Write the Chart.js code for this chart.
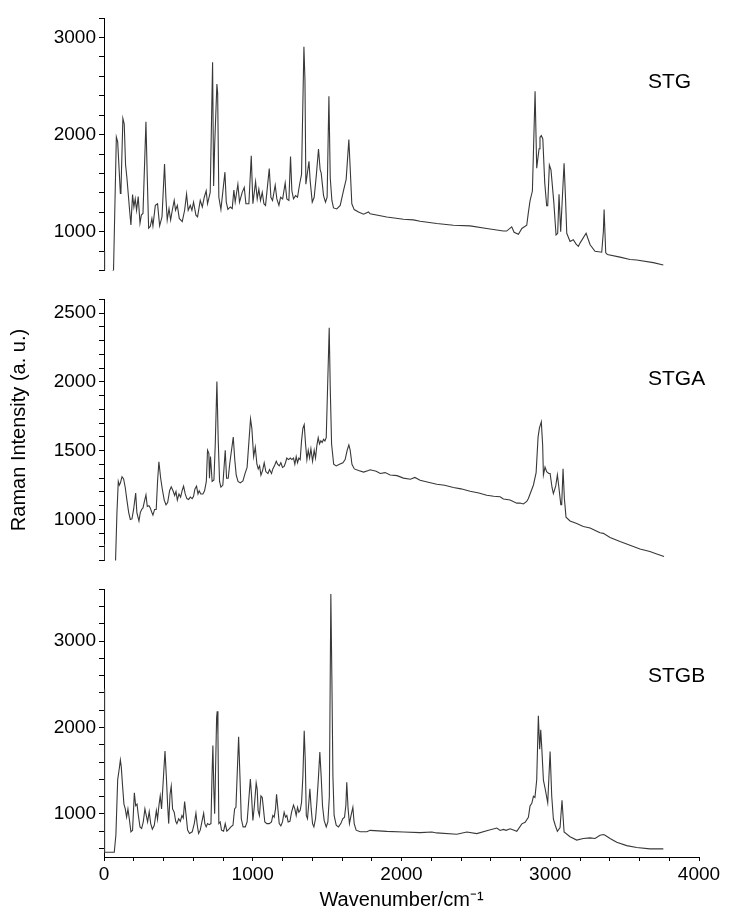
<!DOCTYPE html>
<html>
<head>
<meta charset="utf-8">
<script src="https://cdn.jsdelivr.net/npm/chart.js@4.4.1/dist/chart.umd.min.js"></script>
<style>
  html, body { margin: 0; padding: 0; background: #fff; }
  #wrap { position: relative; width: 739px; height: 918px; }
  .panel { position: absolute; left: 0; width: 739px; }
</style>
</head>
<body>
<div id="wrap">
  <div class="panel" style="top:0;height:285px"><canvas id="stgChart"></canvas></div>
  <div class="panel" style="top:285px;height:290px"><canvas id="stgaChart"></canvas></div>
  <div class="panel" style="top:575px;height:343px"><canvas id="stgbChart"></canvas></div>
</div>
<script>
// wavenumber (cm-1) / intensity pairs
const stgWn = [0, 4, 64, 83, 92, 110, 114, 127, 136, 145, 154, 172, 181, 192, 201, 210, 219, 230, 242, 251, 262, 282, 291, 300, 311, 322, 329, 345, 360, 374, 390, 407, 416, 425, 437, 448, 459, 472, 481, 493, 506, 526, 542, 555, 566, 580, 591, 602, 618, 629, 647, 661, 674, 687, 696, 714, 730, 737, 744, 759, 764, 772, 786, 813, 822, 833, 849, 862, 873, 882, 900, 911, 929, 943, 954, 974, 990, 1001, 1019, 1030, 1041, 1052, 1064, 1075, 1086, 1111, 1122, 1133, 1151, 1162, 1176, 1187, 1201, 1218, 1229, 1243, 1254, 1263, 1274, 1288, 1301, 1315, 1328, 1344, 1351, 1357, 1378, 1386, 1400, 1413, 1428, 1442, 1453, 1460, 1476, 1489, 1500, 1512, 1521, 1532, 1543, 1565, 1588, 1610, 1628, 1646, 1655, 1666, 1682, 1711, 1745, 1778, 1789, 1901, 2013, 2080, 2125, 2237, 2349, 2461, 2573, 2685, 2707, 2741, 2757, 2786, 2809, 2842, 2853, 2864, 2880, 2898, 2909, 2918, 2925, 2931, 2940, 2950, 2963, 2976, 2983, 2994, 3005, 3024, 3039, 3050, 3059, 3070, 3093, 3102, 3111, 3133, 3155, 3174, 3189, 3200, 3241, 3268, 3301, 3346, 3357, 3362, 3373, 3384, 3469, 3536, 3581, 3693, 3760];
const stgInt = [800, 560, 600, 1975, 1925, 1395, 1422, 2166, 2109, 1690, 1556, 1221, 1070, 1382, 1255, 1338, 1221, 1362, 1087, 1171, 1188, 2132, 1556, 1037, 1054, 1137, 1060, 1271, 1288, 1060, 1154, 1697, 1355, 1121, 1238, 1121, 1221, 1322, 1221, 1271, 1137, 1104, 1221, 1389, 1221, 1271, 1221, 1305, 1171, 1154, 1322, 1255, 1355, 1422, 1288, 1405, 2745, 1472, 1891, 2521, 2427, 1355, 1228, 1613, 1305, 1231, 1255, 1238, 1429, 1305, 1489, 1305, 1405, 1456, 1288, 1288, 1781, 1288, 1516, 1338, 1439, 1322, 1405, 1288, 1271, 1650, 1355, 1322, 1479, 1338, 1271, 1355, 1338, 1502, 1338, 1322, 1774, 1422, 1338, 1372, 1355, 1489, 1590, 2903, 2561, 1489, 1724, 1523, 1305, 1355, 1590, 1851, 1640, 1606, 1372, 1305, 1355, 2394, 1556, 1322, 1245, 1235, 1271, 1422, 1539, 1948, 1657, 1288, 1228, 1204, 1181, 1204, 1185, 1151, 1128, 1122, 1108, 1084, 1067, 1060, 1034, 1007, 1007, 1050, 994, 974, 1034, 1067, 1200, 1318, 1419, 2447, 1653, 1771, 1854, 1972, 1989, 1955, 1503, 1268, 1268, 1687, 1637, 1302, 967, 984, 1386, 1000, 1704, 1369, 984, 900, 917, 873, 849, 883, 984, 866, 799, 789, 1000, 1228, 783, 766, 739, 715, 709, 682, 658];

const stgaWn = [0, 3, 75, 87, 96, 103, 110, 121, 132, 143, 154, 166, 177, 188, 199, 213, 221, 235, 244, 253, 262, 271, 282, 291, 302, 311, 322, 329, 340, 351, 360, 369, 381, 392, 405, 417, 428, 441, 452, 464, 475, 484, 493, 504, 515, 526, 535, 546, 557, 569, 580, 593, 602, 611, 622, 632, 640, 651, 665, 676, 688, 696, 705, 709, 716, 727, 739, 748, 759, 768, 777, 786, 799, 815, 824, 835, 846, 869, 879, 889, 901, 916, 934, 948, 962, 985, 994, 1006, 1017, 1028, 1037, 1046, 1055, 1066, 1077, 1088, 1102, 1113, 1126, 1135, 1146, 1158, 1167, 1178, 1189, 1200, 1211, 1220, 1229, 1241, 1252, 1263, 1274, 1283, 1292, 1301, 1310, 1319, 1328, 1337, 1346, 1355, 1364, 1373, 1382, 1391, 1402, 1413, 1422, 1431, 1440, 1449, 1458, 1467, 1476, 1485, 1494, 1514, 1521, 1530, 1544, 1561, 1583, 1606, 1621, 1635, 1646, 1655, 1667, 1683, 1711, 1745, 1778, 1789, 1830, 1857, 1890, 1924, 1970, 2013, 2060, 2090, 2125, 2180, 2237, 2290, 2349, 2400, 2461, 2520, 2573, 2620, 2663, 2685, 2730, 2775, 2797, 2819, 2842, 2853, 2887, 2905, 2918, 2927, 2940, 2949, 2954, 2965, 2976, 2990, 2999, 3012, 3021, 3037, 3048, 3057, 3071, 3077, 3086, 3095, 3106, 3133, 3178, 3222, 3268, 3313, 3335, 3357, 3402, 3469, 3536, 3603, 3670, 3716, 3765];
const stgaInt = [820, 600, 600, 1049, 1276, 1249, 1264, 1310, 1294, 1230, 1140, 1049, 999, 1003, 1072, 1192, 1049, 988, 1049, 1072, 1083, 1128, 1178, 1094, 1099, 1083, 1049, 1031, 1072, 1072, 1276, 1419, 1299, 1219, 1140, 1106, 1122, 1208, 1237, 1208, 1174, 1203, 1140, 1185, 1162, 1212, 1242, 1185, 1151, 1144, 1162, 1151, 1167, 1219, 1242, 1185, 1208, 1185, 1185, 1208, 1276, 1503, 1480, 1299, 1457, 1276, 1287, 1548, 2002, 1571, 1276, 1235, 1249, 1503, 1299, 1299, 1412, 1598, 1435, 1321, 1276, 1265, 1280, 1333, 1378, 1730, 1662, 1457, 1525, 1401, 1367, 1389, 1321, 1355, 1412, 1348, 1333, 1362, 1333, 1367, 1389, 1423, 1401, 1389, 1412, 1378, 1385, 1412, 1446, 1435, 1446, 1435, 1446, 1401, 1457, 1412, 1446, 1435, 1571, 1662, 1689, 1548, 1435, 1503, 1446, 1514, 1423, 1503, 1446, 1537, 1594, 1548, 1571, 1560, 1582, 1571, 1594, 2393, 1957, 1548, 1401, 1389, 1401, 1412, 1435, 1503, 1541, 1503, 1401, 1367, 1355, 1344, 1355, 1361, 1350, 1334, 1340, 1323, 1318, 1300, 1292, 1305, 1284, 1270, 1255, 1248, 1232, 1222, 1205, 1192, 1175, 1168, 1164, 1148, 1141, 1118, 1119, 1112, 1130, 1152, 1250, 1340, 1596, 1664, 1709, 1539, 1323, 1380, 1346, 1334, 1334, 1232, 1187, 1243, 1323, 1243, 1107, 1107, 1368, 1152, 1016, 988, 970, 948, 937, 914, 902, 898, 868, 839, 812, 784, 766, 748, 730];

const stgbWn = [0, 4, 69, 80, 92, 103, 110, 116, 125, 134, 143, 152, 161, 170, 181, 192, 204, 213, 222, 231, 242, 253, 264, 275, 284, 293, 304, 314, 325, 338, 352, 360, 369, 378, 387, 410, 419, 428, 435, 444, 452, 461, 472, 482, 490, 502, 513, 524, 533, 542, 551, 562, 575, 593, 607, 618, 627, 636, 647, 658, 670, 678, 687, 696, 707, 719, 726, 732, 738, 744, 757, 761, 766, 772, 781, 790, 804, 815, 826, 840, 853, 867, 878, 887, 905, 914, 923, 935, 950, 962, 984, 992, 1001, 1011, 1023, 1030, 1036, 1045, 1055, 1064, 1072, 1081, 1095, 1111, 1126, 1135, 1144, 1153, 1160, 1169, 1178, 1189, 1200, 1211, 1220, 1229, 1238, 1250, 1261, 1274, 1283, 1292, 1301, 1310, 1319, 1328, 1337, 1346, 1353, 1360, 1368, 1377, 1384, 1393, 1402, 1411, 1422, 1431, 1442, 1451, 1460, 1469, 1480, 1494, 1505, 1515, 1525, 1532, 1539, 1547, 1561, 1576, 1592, 1605, 1617, 1626, 1632, 1641, 1650, 1663, 1673, 1682, 1695, 1722, 1767, 1789, 1901, 2013, 2125, 2204, 2237, 2372, 2439, 2506, 2585, 2641, 2663, 2685, 2703, 2730, 2757, 2775, 2809, 2831, 2853, 2864, 2876, 2887, 2897, 2909, 2920, 2929, 2936, 2943, 2954, 2965, 2983, 2999, 3010, 3021, 3034, 3048, 3066, 3079, 3093, 3133, 3178, 3222, 3268, 3301, 3335, 3357, 3369, 3402, 3447, 3514, 3581, 3670, 3760];
const stgbInt = [2450, 555, 555, 755, 1396, 1528, 1623, 1547, 1321, 1113, 1057, 962, 1057, 943, 792, 811, 1245, 1094, 1113, 981, 849, 830, 906, 1057, 981, 906, 1026, 887, 822, 868, 1038, 936, 1094, 1207, 1057, 1728, 1434, 1094, 887, 1226, 1321, 1057, 1019, 913, 887, 943, 913, 981, 951, 1143, 1000, 811, 773, 792, 887, 1007, 868, 773, 811, 906, 1007, 887, 849, 887, 875, 887, 1434, 1792, 1300, 1000, 2113, 2189, 1925, 887, 906, 811, 800, 887, 800, 822, 849, 868, 1057, 1075, 1894, 1434, 943, 849, 849, 906, 1404, 1207, 924, 1094, 1358, 1283, 1038, 981, 1207, 1189, 1057, 906, 887, 887, 906, 981, 962, 1057, 1226, 1057, 887, 860, 906, 1019, 962, 980, 906, 913, 1019, 1102, 1057, 981, 1075, 1019, 1040, 1132, 1434, 1962, 1623, 981, 943, 1132, 1290, 1057, 887, 849, 943, 1132, 1434, 1717, 1434, 1094, 924, 849, 906, 1200, 3547, 2566, 1434, 981, 868, 849, 887, 943, 962, 1100, 1366, 1057, 887, 1000, 1075, 887, 811, 792, 792, 809, 797, 790, 782, 790, 779, 763, 790, 771, 809, 835, 808, 820, 809, 827, 809, 797, 884, 903, 959, 1090, 1121, 1203, 1190, 1391, 2135, 1748, 1974, 1767, 1391, 1297, 1128, 1722, 1203, 940, 865, 797, 840, 1158, 790, 734, 696, 715, 722, 715, 752, 760, 752, 715, 670, 632, 610, 594, 594];

// axis ticks (labelled values) and ranges
const stgTicks = [1000, 2000, 3000];
const stgaTicks = [1000, 1500, 2000, 2500];
const stgbTicks = [1000, 2000, 3000];
const wnTicks = [0, 1000, 2000, 3000, 4000];

const FONT = '"Liberation Sans", Arial, Helvetica, sans-serif';
const LINE = '#383838';

const panelLabel = {
    id: 'panelLabel',
    afterDraw(chart, args, opts) {
        const ctx = chart.ctx;
        ctx.save();
        ctx.font = '21px ' + FONT;
        ctx.fillStyle = '#000';
        ctx.textBaseline = 'middle';
        ctx.textAlign = 'left';
        ctx.fillText(opts.text, opts.x, opts.y);
        ctx.restore();
    }
};

function stepTicks(step) {
    return s => {
        const list = [];
        for (let v = Math.ceil(s.min / step) * step; v <= s.max + 1e-6; v += step) list.push({ value: v });
        s.ticks = list;
    };
}

function yScale(min, max, step, labels, title) {
    return {
        type: 'linear',
        min: min,
        max: max,
        afterFit: s => { s.width = 104; },
        afterBuildTicks: stepTicks(step),
        ticks: {
            autoSkip: false,
            padding: 3,
            color: '#000',
            font: { family: FONT, size: 19 },
            callback: v => labels.includes(v) ? String(v) : ''
        },
        grid: { drawOnChartArea: false, tickLength: 5, color: '#000', tickWidth: 1 },
        border: { display: true, color: '#000', width: 1 },
        title: title ? {
            display: true,
            text: title,
            color: '#000',
            font: { family: FONT, size: 20 },
            padding: { top: 7, bottom: 0 }
        } : { display: false }
    };
}

function xScale(show) {
    if (!show) return { type: 'linear', min: 0, max: 4000, display: false };
    return {
        type: 'linear',
        min: 0,
        max: 4000,
        afterFit: s => { s.height = 61; },
        afterBuildTicks: stepTicks(200),
        ticks: {
            autoSkip: false,
            maxRotation: 0,
            padding: 2,
            color: '#000',
            font: { family: FONT, size: 19 },
            callback: v => wnTicks.includes(v) ? String(v) : ''
        },
        grid: { drawOnChartArea: false, tickLength: 4, color: '#000' },
        border: { display: true, color: '#000', width: 1 },
        title: {
            display: true,
            text: 'Wavenumber/cm\u207B\u00B9',
            color: '#000',
            font: { family: FONT, size: 20 },
            padding: { top: 0, bottom: 6 }
        }
    };
}

function makeChart(id, wn, inten, y, showX, pad, label) {
    new Chart(document.getElementById(id), {
        type: 'line',
        data: {
            datasets: [{
                data: wn.map((w, i) => ({ x: w, y: inten[i] })),
                borderColor: LINE,
                borderWidth: 1.1,
                pointRadius: 0,
                tension: 0,
                fill: false
            }]
        },
        options: {
            responsive: true,
            maintainAspectRatio: false,
            animation: false,
            layout: { padding: pad },
            scales: { x: xScale(showX), y: y },
            plugins: {
                legend: { display: false },
                tooltip: { enabled: false },
                panelLabel: label
            }
        },
        plugins: [panelLabel]
    });
}

makeChart('stgChart', stgWn, stgInt, yScale(600, 3200, 200, stgTicks), false,
    { top: 18, bottom: 8, left: 0, right: 40 }, { text: 'STG', x: 648, y: 82 });
makeChart('stgaChart', stgaWn, stgaInt, yScale(700, 2600, 100, stgaTicks, 'Raman Intensity (a. u.)'), false,
    { top: 5, bottom: 5, left: 0, right: 40 }, { text: 'STGA', x: 648, y: 94 });
makeChart('stgbChart', stgbWn, stgbInt, yScale(500, 3600, 200, stgbTicks), true,
    { top: 8, bottom: 0, left: 0, right: 40 }, { text: 'STGB', x: 648, y: 101 });
</script>
</body>
</html>
